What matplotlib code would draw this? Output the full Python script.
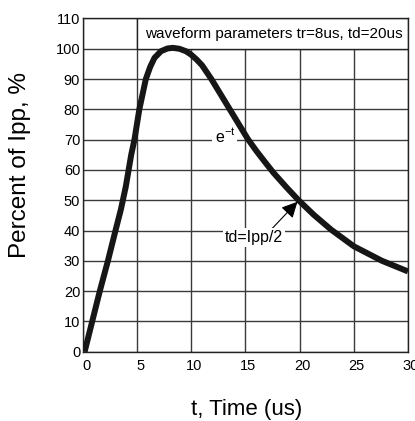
import matplotlib.pyplot as plt
from matplotlib.patches import Rectangle
from matplotlib.transforms import ScaledTranslation

# pulse shape (time in us, percent of Ipp)
t_us = [0.15, 0.85, 1.55, 2.3, 3.0, 3.5, 3.95, 4.45, 4.75, 5.2, 5.5, 5.8, 6.2,
        6.6, 7.2, 7.8, 8.3, 8.9, 9.5, 10.0, 10.5, 11.0, 11.85, 12.7, 13.55,
        14.4, 15.2, 16.0, 16.8, 17.6, 18.8, 19.9, 21.3, 22.9, 25.0, 27.6, 30.0]
pct = [0, 10, 20, 30, 40, 47, 54.5, 65, 70, 80, 85, 90, 94,
       97, 99.2, 100.1, 100.3, 100.0, 99.2, 98, 96.4, 94.5, 90, 85, 80,
       75, 70.3, 66.3, 62.6, 59, 54.2, 50, 45.2, 40.3, 34.8, 30, 26.5]

x_ticks = [0, 5, 10, 15, 20, 25, 30]
y_ticks = [0, 10, 20, 30, 40, 50, 60, 70, 80, 90, 100, 110]

plt.rcParams['font.family'] = ['Liberation Sans', 'DejaVu Sans']

fig = plt.figure(figsize=(4.15, 4.21), dpi=100)
ax = fig.add_axes([0.2, 0.1646, 0.7831, 0.7915])

ax.set_xlim(0, 30)
ax.set_ylim(0, 110)
ax.set_xticks(x_ticks)
ax.set_yticks(y_ticks)
ax.set_xticklabels([str(v) for v in x_ticks], fontsize=10.5)
ax.set_yticklabels([str(v) for v in y_ticks], fontsize=10.5)
ax.tick_params(length=0, pad=2)
ax.tick_params(axis='x', pad=5)
# x labels sit a bit right of their grid lines in the original
shift = ScaledTranslation(3 / 100, 0, fig.dpi_scale_trans)
for lab in ax.get_xticklabels():
    lab.set_transform(lab.get_transform() + shift)

ax.set_axisbelow(True)
ax.grid(True, color='#3a3a3a', linewidth=1.0)
for s in ax.spines.values():
    s.set_linewidth(1.0)
    s.set_color('#222222')

# parameter box in the top row
ax.add_patch(Rectangle((5, 100), 25, 10, facecolor='white', edgecolor='#222222',
                       linewidth=1.0, zorder=1.5))
ax.text(17.6, 105, "waveform parameters tr=8us, td=20us", fontsize=11,
        ha='center', va='center', zorder=2)

ax.plot(t_us, pct, color='#161616', linewidth=4.3, solid_capstyle='butt',
        solid_joinstyle='round', zorder=3)

ax.text(13.1, 71.3, "e$^{\\mathregular{-t}}$", fontsize=11.5, ha='center', va='center',
        bbox=dict(facecolor='white', edgecolor='none', pad=1.5), zorder=2)

ax.annotate("td=Ipp/2", xy=(19.8, 49.5), xytext=(15.8, 37.6), fontsize=11.5,
            ha='center', va='center',
            bbox=dict(facecolor='white', edgecolor='none', pad=1.5),
            arrowprops=dict(arrowstyle='-|>', color='black', lw=0.8,
                            mutation_scale=24, shrinkA=0, shrinkB=0,
                            relpos=(0.78, 1.0)),
            zorder=4)

ax.set_xlabel("t, Time (us)", fontsize=16)
ax.set_ylabel("Percent of Ipp, %", fontsize=17.5)
ax.xaxis.set_label_coords(0.505, -0.172)
ax.yaxis.set_label_coords(-0.195, 0.56)
ax.xaxis.label.set_va('center')
ax.yaxis.label.set_va('center')

fig.savefig("out.png", dpi=100)
